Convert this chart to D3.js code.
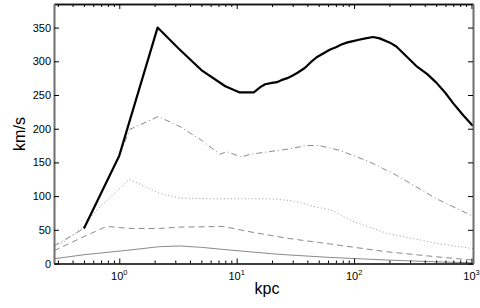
<!DOCTYPE html>
<html>
<head>
<meta charset="utf-8">
<script src="https://cdn.jsdelivr.net/npm/d3@7"></script>
<style>
  body { margin: 0; background: #fff; }
  svg { display: block; font-family: "Liberation Sans", Arial, sans-serif; }
</style>
</head>
<body>
<div id="chart"></div>
<script>
(function() {

    var width = 480;
    var height = 308;

    // rotation curve components (radius in kpc, velocity in km/s)
    var totalR = [0.5, 1.0, 2.12, 3.2, 5, 8, 10.5, 14, 16, 17.5, 20, 22, 24, 27, 30, 33, 38, 43, 48, 55, 62, 70, 78, 88, 98, 110, 125, 145, 165, 200, 229, 280, 339, 420, 504, 600, 697, 850, 1030];
    var totalV = [52, 160, 350, 319, 287, 263, 254, 254, 262, 266, 268, 269, 272, 275, 279, 283, 290, 299, 306, 312, 317, 321, 325, 328, 330, 332, 334, 336, 334, 328, 322, 307, 293, 281, 268, 253, 238, 220, 204];

    var dashDotR = [0.278, 0.5, 1.0, 1.23, 2.15, 3.3, 5, 7.2, 8.2, 11, 13, 19, 28, 39, 50, 75, 135, 229, 504, 1030];
    var dashDotV = [26, 52, 160, 199, 218, 203, 183, 162, 166, 158, 162, 166, 170, 175, 175, 168, 151, 131, 96, 70];

    var dottedR = [0.278, 0.33, 0.48, 0.64, 1.22, 2.2, 3.3, 7, 20, 30, 50, 62, 100, 188, 500, 1030];
    var dottedV = [28, 31, 52, 79, 125, 104, 97, 96, 96, 93, 83, 80, 62, 45, 30, 22];

    var dashedR = [0.278, 0.46, 0.78, 1.23, 2.2, 3.3, 7.7, 13, 28, 51, 62, 188, 500, 1030];
    var dashedV = [19, 37, 55, 52, 52, 54, 55, 47, 37, 31, 29, 17.5, 10, 5];

    var solidR = [0.278, 0.5, 1.23, 2.2, 3.3, 5, 8.7, 23, 62, 200, 500, 1030];
    var solidV = [7, 13, 20, 25, 26, 24, 20, 13.6, 9, 5, 2.5, 1];

    var yTicks = [0, 50, 100, 150, 200, 250, 300, 350];
    var xMajor = [1, 10, 100, 1000];

    var series = [
        { r: solidR, v: solidV, color: "#8a8a8a", w: 1, dash: null },
        { r: dashedR, v: dashedV, color: "#8a8a8a", w: 1, dash: "6,4" },
        { r: dottedR, v: dottedV, color: "#9a9a9a", w: 1, dash: "1,2.5" },
        { r: dashDotR, v: dashDotV, color: "#8a8a8a", w: 1, dash: "6,3,1,3" },
        { r: totalR, v: totalV, color: "#000", w: 2.2, dash: null }
    ];

    var left = 54, right = 473, top = 4, bottom = 263.5;

    var x = d3.scaleLog().domain([0.278, 1030]).range([left, right]);
    var y = d3.scaleLinear().domain([0, 385]).range([bottom, top]);

    var svg = d3.select("#chart")
        .append("svg")
        .attr("width", width)
        .attr("height", height);

    // minor x ticks, 2..9 of every decade
    var xMinor = [];
    [0.1, 1, 10, 100].forEach(function(d) {
        for (var k = 2; k <= 9; k++) {
            var v = d * k;
            if (v >= 0.278 && v <= 1030) xMinor.push(v);
        }
    });

    var plot = svg.append("g");

    var line = d3.line()
        .x(function(d) { return x(d[0]); })
        .y(function(d) { return y(d[1]); });

    series.forEach(function(s) {
        var pts = s.r.map(function(r, i) { return [r, s.v[i]]; });
        plot.append("path")
            .datum(pts)
            .attr("d", line)
            .attr("fill", "none")
            .attr("stroke", s.color)
            .attr("stroke-width", s.w)
            .attr("stroke-linejoin", "round")
            .attr("stroke-dasharray", s.dash);
    });

    function styleAxis(g, color, w) {
        g.select(".domain").attr("stroke", color).attr("stroke-width", w);
        g.selectAll(".tick line").attr("stroke", "#000");
        g.selectAll("text").attr("font-size", 11).attr("fill", "#000")
            .attr("font-family", "Liberation Sans, Arial, sans-serif");
    }

    // bottom axis
    svg.append("g")
        .attr("transform", "translate(0," + bottom + ")")
        .call(d3.axisBottom(x).tickValues(xMinor).tickSize(-3).tickSizeOuter(0).tickFormat(""))
        .call(styleAxis, "#333", 1.6);
    svg.append("g")
        .attr("transform", "translate(0," + bottom + ")")
        .call(d3.axisBottom(x).tickValues(xMajor).tickSize(-5).tickSizeOuter(0).tickFormat(""))
        .call(styleAxis, "#333", 1.6);

    // top axis
    svg.append("g")
        .attr("transform", "translate(0," + top + ")")
        .call(d3.axisTop(x).tickValues(xMinor).tickSize(-3).tickSizeOuter(0).tickFormat(""))
        .call(styleAxis, "#111", 1.4);
    svg.append("g")
        .attr("transform", "translate(0," + top + ")")
        .call(d3.axisTop(x).tickValues(xMajor).tickSize(-5).tickSizeOuter(0).tickFormat(""))
        .call(styleAxis, "#111", 1.4);

    // left / right axes
    svg.append("g")
        .attr("transform", "translate(" + left + ",0)")
        .call(d3.axisLeft(y).tickValues(yTicks).tickSize(-5).tickSizeOuter(0).tickPadding(3))
        .call(styleAxis, "#6e6e6e", 2);
    svg.append("g")
        .attr("transform", "translate(" + right + ",0)")
        .call(d3.axisRight(y).tickValues(yTicks).tickSize(-5).tickSizeOuter(0).tickFormat(""))
        .call(styleAxis, "#6e6e6e", 2);

    // x tick labels 10^n
    var lab = svg.append("g")
        .selectAll("text")
        .data(xMajor)
        .enter()
        .append("text")
        .attr("x", function(d) { return x(d); })
        .attr("y", 280)
        .attr("text-anchor", "middle")
        .attr("font-size", 11)
        .attr("fill", "#000");
    lab.append("tspan").text("10");
    lab.append("tspan")
        .attr("font-size", 7.5)
        .attr("dy", -5)
        .text(function(d) { return Math.round(Math.log10(d)); });

    svg.append("text")
        .attr("x", 267)
        .attr("y", 294)
        .attr("text-anchor", "middle")
        .attr("font-size", 16)
        .text("kpc");

    svg.append("text")
        .attr("transform", "translate(25,134) rotate(-90)")
        .attr("text-anchor", "middle")
        .attr("font-size", 16)
        .text("km/s");

})();
</script>
</body>
</html>
